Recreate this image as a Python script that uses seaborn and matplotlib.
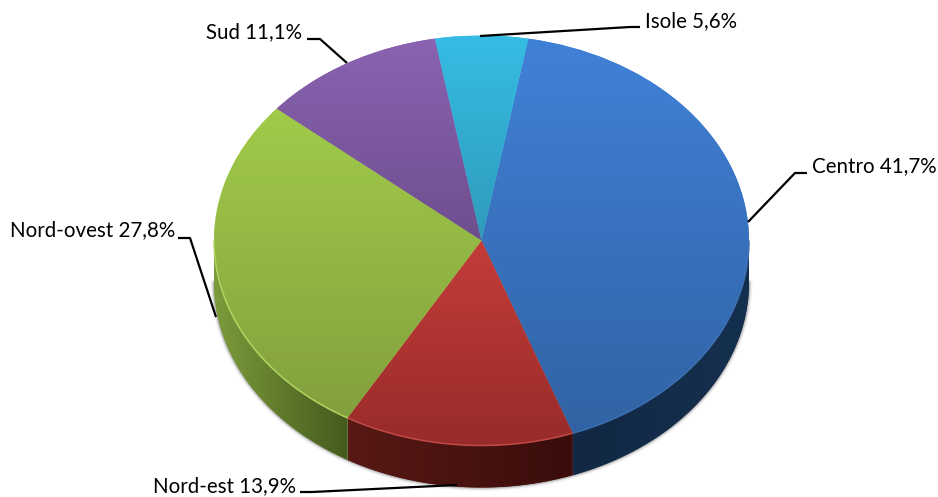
import numpy as np
import matplotlib
matplotlib.use("Agg")
import matplotlib.pyplot as plt
import seaborn as sns
from matplotlib.patches import Polygon

# ---- data ----
regions = ["Centro", "Nord-est", "Nord-ovest", "Sud", "Isole"]
shares = [41.7, 13.9, 27.8, 11.1, 5.6]
share_labels = ["41,7%", "13,9%", "27,8%", "11,1%", "5,6%"]

# ---- style ----
top_light = ["#4081D8", "#EE4F48", "#A9D54D", "#8B63B2", "#36BCE4"]
top_dark = ["#3162A2", "#982B2A", "#7F9C3C", "#503A68", "#287A92"]
side_left = ["#122844", "#581915", "#7C9C3B", "#000000", "#000000"]
side_right = ["#15304F", "#3A0D0B", "#445A1E", "#000000", "#000000"]
rim_colors = ["#3C70B2", "#C24A46", "#B0D560", "#8B63B2", "#36BCE4"]

CX, CY, RX, RY, DEPTH = 481.5, 240.5, 267.5, 205.0, 42.0
W, H = 938, 497

def dx(px):
    return (np.asarray(px, float) - CX) / RX

def dy(py):
    return (CY - np.asarray(py, float)) / RY

label_pos = {
    "Centro": (812, 166, "left"),
    "Nord-est": (296, 486, "right"),
    "Nord-ovest": (175, 230, "right"),
    "Sud": (302, 32, "right"),
    "Isole": (645, 21, "left"),
}
leaders = {
    "Centro": ([748, 795, 807], [222, 173, 173]),
    "Nord-est": ([457, 312, 300], [485, 492, 492]),
    "Nord-ovest": ([216, 190, 178], [317, 238, 238]),
    "Sud": ([347, 320, 307], [63, 39, 39]),
    "Isole": ([480, 630, 640], [36, 27, 27]),
}

sns.set_theme(style="white")
plt.rcParams["font.family"] = ["Lato", "DejaVu Sans"]

fig = plt.figure(figsize=(W / 100, H / 100), dpi=100, facecolor="white")
ax = fig.add_axes([0, 0, 1, 1])

wedges, _ = ax.pie(
    shares, startangle=79.9, counterclock=False, radius=1.0,
    colors=top_light, wedgeprops={"linewidth": 0},
)
ax.set_aspect("auto")
xlim = (float(dx(0)), float(dx(W)))
ylim = (float(dy(H)), float(dy(0)))
d = DEPTH / RY

# soft shadow along the lower edge
t = np.radians(np.linspace(180, 360, 300))
for lw, a in [(5, 0.05), (3, 0.10), (1.6, 0.16)]:
    ax.plot(np.cos(t), np.sin(t) - d, color="black", alpha=a, lw=lw, zorder=0.5,
            solid_capstyle="round")

grad_y = np.linspace(0, 1, 256).reshape(-1, 1)
grad_x = np.linspace(0, 1, 256).reshape(1, -1)

for i, w in enumerate(wedges):
    # extruded side
    for shift in (0, -360, 360):
        lo = max(w.theta1 + shift, 180)
        hi = min(w.theta2 + shift, 360)
        if hi <= lo:
            continue
        a = np.radians(np.linspace(lo, hi, 200))
        xs, ys = np.cos(a), np.sin(a)
        pts = np.r_[np.c_[xs, ys - d], np.c_[xs[::-1], ys[::-1]]]
        poly = Polygon(pts, closed=True, fc=side_left[i], ec="none", zorder=1)
        ax.add_patch(poly)
        cm = sns.blend_palette([side_left[i], side_right[i]], as_cmap=True)
        im = ax.imshow(grad_x, cmap=cm, aspect="auto", zorder=1.1,
                       extent=(xs.min(), xs.max(), ys.min() - d - 0.01, ys.max() + 0.01))
        im.set_clip_path(poly)
    # top face with vertical gradient
    w.set_zorder(2)
    cm = sns.blend_palette([top_light[i], top_dark[i]], as_cmap=True)
    im = ax.imshow(grad_y, cmap=cm, aspect="auto", zorder=2.1, extent=(-1, 1, -1, 1))
    im.set_clip_path(w)

# light rim on the front of the top face
for i, w in enumerate(wedges):
    for shift in (0, -360, 360):
        lo = max(w.theta1 + shift, 180)
        hi = min(w.theta2 + shift, 360)
        if hi > lo:
            a = np.radians(np.linspace(lo, hi, 200))
            ax.plot(np.cos(a), np.sin(a), color=rim_colors[i], lw=1.1, zorder=3,
                    solid_capstyle="butt")

for name, lab in zip(regions, share_labels):
    lx, ly = leaders[name]
    ax.plot(dx(lx), dy(ly), color="black", lw=1.6, zorder=4,
            solid_joinstyle="round", solid_capstyle="butt")
    px, py, ha = label_pos[name]
    ax.text(dx(px), dy(py), f"{name} {lab}", ha=ha, va="center",
            fontsize=14.8, color="black", zorder=5)

ax.set_xlim(*xlim)
ax.set_ylim(*ylim)
ax.axis("off")
fig.savefig("out.png", dpi=100, facecolor="white")
